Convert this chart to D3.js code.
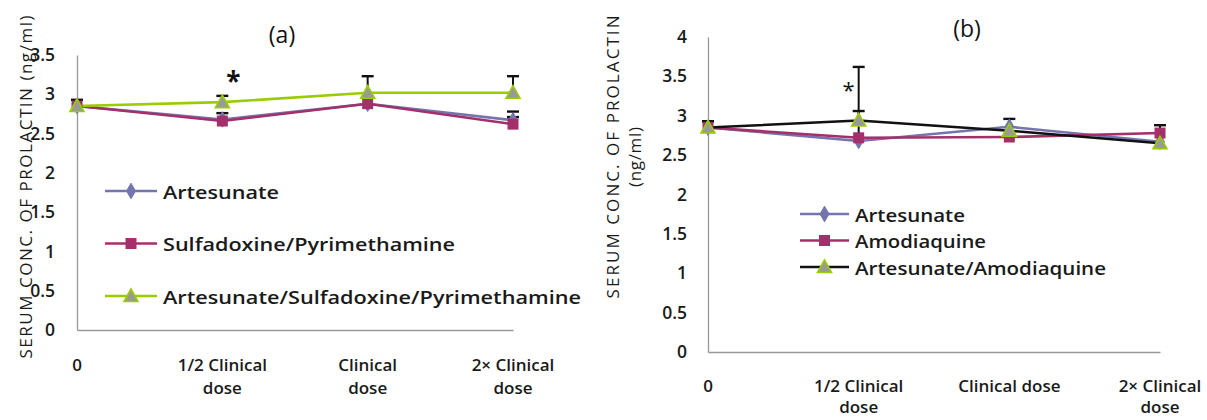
<!DOCTYPE html>
<html>
<head>
<meta charset="utf-8">
<script src="https://cdn.jsdelivr.net/npm/d3@7"></script>
<style>
  body { margin: 0; background: #fff; }
  svg { display: block; }
  text { font-family: "Open Sans", "Liberation Sans", sans-serif; }
</style>
</head>
<body>
<div id="chart"></div>
<script>
// data
const categories = ["0", "1/2 Clinical dose", "Clinical dose", "2× Clinical dose"];
const yTicksA = [0, 0.5, 1, 1.5, 2, 2.5, 3, 3.5];
const yTicksB = [0, 0.5, 1, 1.5, 2, 2.5, 3, 3.5, 4];

// panel (a)
const artesunateA = [2.85, 2.68, 2.88, 2.67];
const sulfaPyrA = [2.85, 2.66, 2.88, 2.62];
const artSulfaPyrA = [2.85, 2.90, 3.02, 3.02];
const artesunateErrA = [0.08, 0, 0, 0.11];
const sulfaPyrErrA = [0, 0.10, 0, 0.09];
const artSulfaPyrErrA = [0, 0.08, 0.21, 0.21];

// panel (b)
const artesunateB = [2.85, 2.68, 2.86, 2.67];
const amodiaquineB = [2.85, 2.72, 2.73, 2.78];
const artAmodB = [2.85, 2.94, 2.81, 2.65];
const artesunateErrB = [0.08, 0, 0.10, 0];
const amodiaquineErrB = [0, 0.34, 0, 0.10];
const artAmodErrB = [0.08, 0.68, 0, 0];

const width = 1207, height = 420;
const svg = d3.select("#chart").append("svg")
  .attr("width", width)
  .attr("height", height);

const colBlue = "#7474AE", colPurple = "#A3306A", colLime = "#9ACD00", colBlack = "#111";

function marker(g, shape, fill, stroke) {
  if (shape === "diamond") {
    g.append("path").attr("d", d3.symbol(d3.symbolDiamond, 70)())
      .attr("fill", fill).attr("stroke", stroke).attr("stroke-width", 1);
  } else if (shape === "square") {
    g.append("rect").attr("x", -5.5).attr("y", -5.5).attr("width", 11).attr("height", 11)
      .attr("fill", fill);
  } else {
    g.append("path").attr("d", "M0,-7L7,5.5L-7,5.5Z")
      .attr("fill", "#999").attr("stroke", stroke).attr("stroke-width", 1.6);
  }
}

function drawPanel(p) {
  const x = d3.scalePoint().domain(categories).range([p.x0, p.x1]);
  const y = d3.scaleLinear().domain([0, p.ymax]).range([p.yBottom, p.yTop]);
  const g = svg.append("g");

  // axes
  const yAxis = g.append("g")
    .attr("transform", `translate(${p.x0},0)`)
    .call(d3.axisLeft(y).tickValues(p.ticks).tickSize(0).tickSizeOuter(0)
      .tickPadding(p.tickPad).tickFormat(d => d));
  yAxis.select(".domain").attr("stroke", "#999").attr("stroke-width", 1.3);
  yAxis.selectAll("text")
    .attr("font-size", 17.5).attr("font-weight", 600).attr("fill", "#1a1a1a")
    .attr("font-family", "'Open Sans', sans-serif");

  const xAxis = g.append("g")
    .attr("transform", `translate(0,${p.yBottom})`)
    .call(d3.axisBottom(x).tickSize(0).tickSizeOuter(0).tickFormat(""));
  xAxis.select(".domain").attr("stroke", "#999").attr("stroke-width", 1.3);

  // category labels, wrapped as in the figure
  categories.forEach((c, i) => {
    const lines = p.labelLines[i];
    const t = g.append("text")
      .attr("x", x(c)).attr("y", p.labelY)
      .attr("text-anchor", "middle")
      .attr("font-size", 17).attr("font-weight", 600).attr("fill", "#1a1a1a");
    lines.forEach((l, k) => {
      t.append("tspan").attr("x", x(c)).attr("dy", k === 0 ? 0 : p.labelGap).text(l);
    });
  });

  // lines
  const line = d3.line().x((d, i) => x(categories[i])).y(d => y(d));
  p.series.forEach(s => {
    g.append("path").datum(s.values)
      .attr("fill", "none").attr("stroke", s.line).attr("stroke-width", 2.6)
      .attr("d", line);
  });

  // error bars (upper only)
  p.series.forEach(s => {
    s.err.forEach((e, i) => {
      if (!e) return;
      const cx = x(categories[i]);
      const yTop = y(s.values[i] + e);
      g.append("line").attr("x1", cx).attr("x2", cx)
        .attr("y1", y(s.values[i])).attr("y2", yTop)
        .attr("stroke", "#111").attr("stroke-width", 2);
      g.append("line").attr("x1", cx - 6).attr("x2", cx + 6)
        .attr("y1", yTop).attr("y2", yTop)
        .attr("stroke", "#111").attr("stroke-width", 2.4);
    });
  });

  // markers
  p.series.forEach(s => {
    s.values.forEach((v, i) => {
      const m = g.append("g").attr("transform", `translate(${x(categories[i])},${y(v)})`);
      marker(m, s.shape, s.fill, s.stroke);
    });
  });

  // significance star
  g.append("text")
    .attr("x", x(categories[1]) + p.star.dx).attr("y", y(p.star.v))
    .attr("text-anchor", "middle").attr("dominant-baseline", "central")
    .attr("font-size", p.star.size).attr("font-weight", p.star.weight).attr("fill", "#111")
    .text("*");

  // panel title
  g.append("text")
    .attr("x", p.title.x).attr("y", p.title.y)
    .attr("text-anchor", "middle")
    .attr("font-family", "'Liberation Serif', 'Times New Roman', serif")
    .attr("font-size", 23).attr("fill", "#111")
    .text(p.title.text);

  // y axis title
  p.yTitle.forEach(t => {
    g.append("text")
      .attr("transform", `translate(${t.x},${t.y}) rotate(-90)`)
      .attr("text-anchor", "middle")
      .attr("font-size", 17).attr("font-weight", 500).attr("fill", "#1a1a1a")
      .attr("textLength", t.len).attr("lengthAdjust", "spacing")
      .text(t.text);
  });

  // legend
  p.series.forEach((s, k) => {
    const ly = p.legend.y + k * p.legend.gap;
    g.append("line")
      .attr("x1", p.legend.x).attr("x2", p.legend.x + p.legend.w)
      .attr("y1", ly).attr("y2", ly)
      .attr("stroke", s.line).attr("stroke-width", 2.6);
    const m = g.append("g").attr("transform", `translate(${p.legend.x + p.legend.w / 2},${ly})`);
    marker(m, s.shape, s.fill, s.stroke);
    g.append("text")
      .attr("x", p.legend.x + p.legend.w + 6).attr("y", ly)
      .attr("dominant-baseline", "central")
      .attr("font-size", p.legend.size).attr("font-weight", 600).attr("fill", "#1a1a1a")
      .attr("textLength", s.tlen).attr("lengthAdjust", "spacingAndGlyphs")
      .text(s.name);
  });
}

drawPanel({
  x0: 77, x1: 513, yBottom: 330, yTop: 55, ymax: 3.5, ticks: yTicksA, tickPad: 22,
  labelY: 371, labelGap: 23,
  labelLines: [["0"], ["1/2 Clinical", "dose"], ["Clinical", "dose"], ["2× Clinical", "dose"]],
  series: [
    { name: "Artesunate", values: artesunateA, err: artesunateErrA, line: colBlue, shape: "diamond", fill: colBlue, stroke: colBlue, tlen: 116 },
    { name: "Sulfadoxine/Pyrimethamine", values: sulfaPyrA, err: sulfaPyrErrA, line: colPurple, shape: "square", fill: colPurple, stroke: colPurple, tlen: 292 },
    { name: "Artesunate/Sulfadoxine/Pyrimethamine", values: artSulfaPyrA, err: artSulfaPyrErrA, line: colLime, shape: "triangle", fill: "#999", stroke: colLime, tlen: 418 }
  ],
  star: { dx: 11, v: 3.17, size: 26, weight: 700 },
  title: { text: "(a)", x: 282, y: 43 },
  yTitle: [{ text: "SERUM  CONC.  OF  PROLACTIN  (ng/ml)", x: 32, y: 187, len: 343 }],
  legend: { x: 105, w: 52, y: 191, gap: 52.5, size: 18.5 }
});

drawPanel({
  x0: 708, x1: 1160, yBottom: 352, yTop: 37, ymax: 4, ticks: yTicksB, tickPad: 21,
  labelY: 392, labelGap: 21,
  labelLines: [["0"], ["1/2 Clinical", "dose"], ["Clinical dose"], ["2× Clinical", "dose"]],
  series: [
    { name: "Artesunate", values: artesunateB, err: artesunateErrB, line: colBlue, shape: "diamond", fill: colBlue, stroke: colBlue, tlen: 110 },
    { name: "Amodiaquine", values: amodiaquineB, err: amodiaquineErrB, line: colPurple, shape: "square", fill: colPurple, stroke: colPurple, tlen: 131 },
    { name: "Artesunate/Amodiaquine", values: artAmodB, err: artAmodErrB, line: colBlack, shape: "triangle", fill: "#999", stroke: colLime, tlen: 251 }
  ],
  star: { dx: -10, v: 3.34, size: 22, weight: 400 },
  title: { text: "(b)", x: 967, y: 37 },
  yTitle: [
    { text: "SERUM  CONC.  OF  PROLACTIN", x: 619, y: 157, len: 283 },
    { text: "(ng/ml)", x: 641, y: 157, len: 60 }
  ],
  legend: { x: 800, w: 49, y: 214, gap: 26.5, size: 18.5 }
});
</script>
</body>
</html>
